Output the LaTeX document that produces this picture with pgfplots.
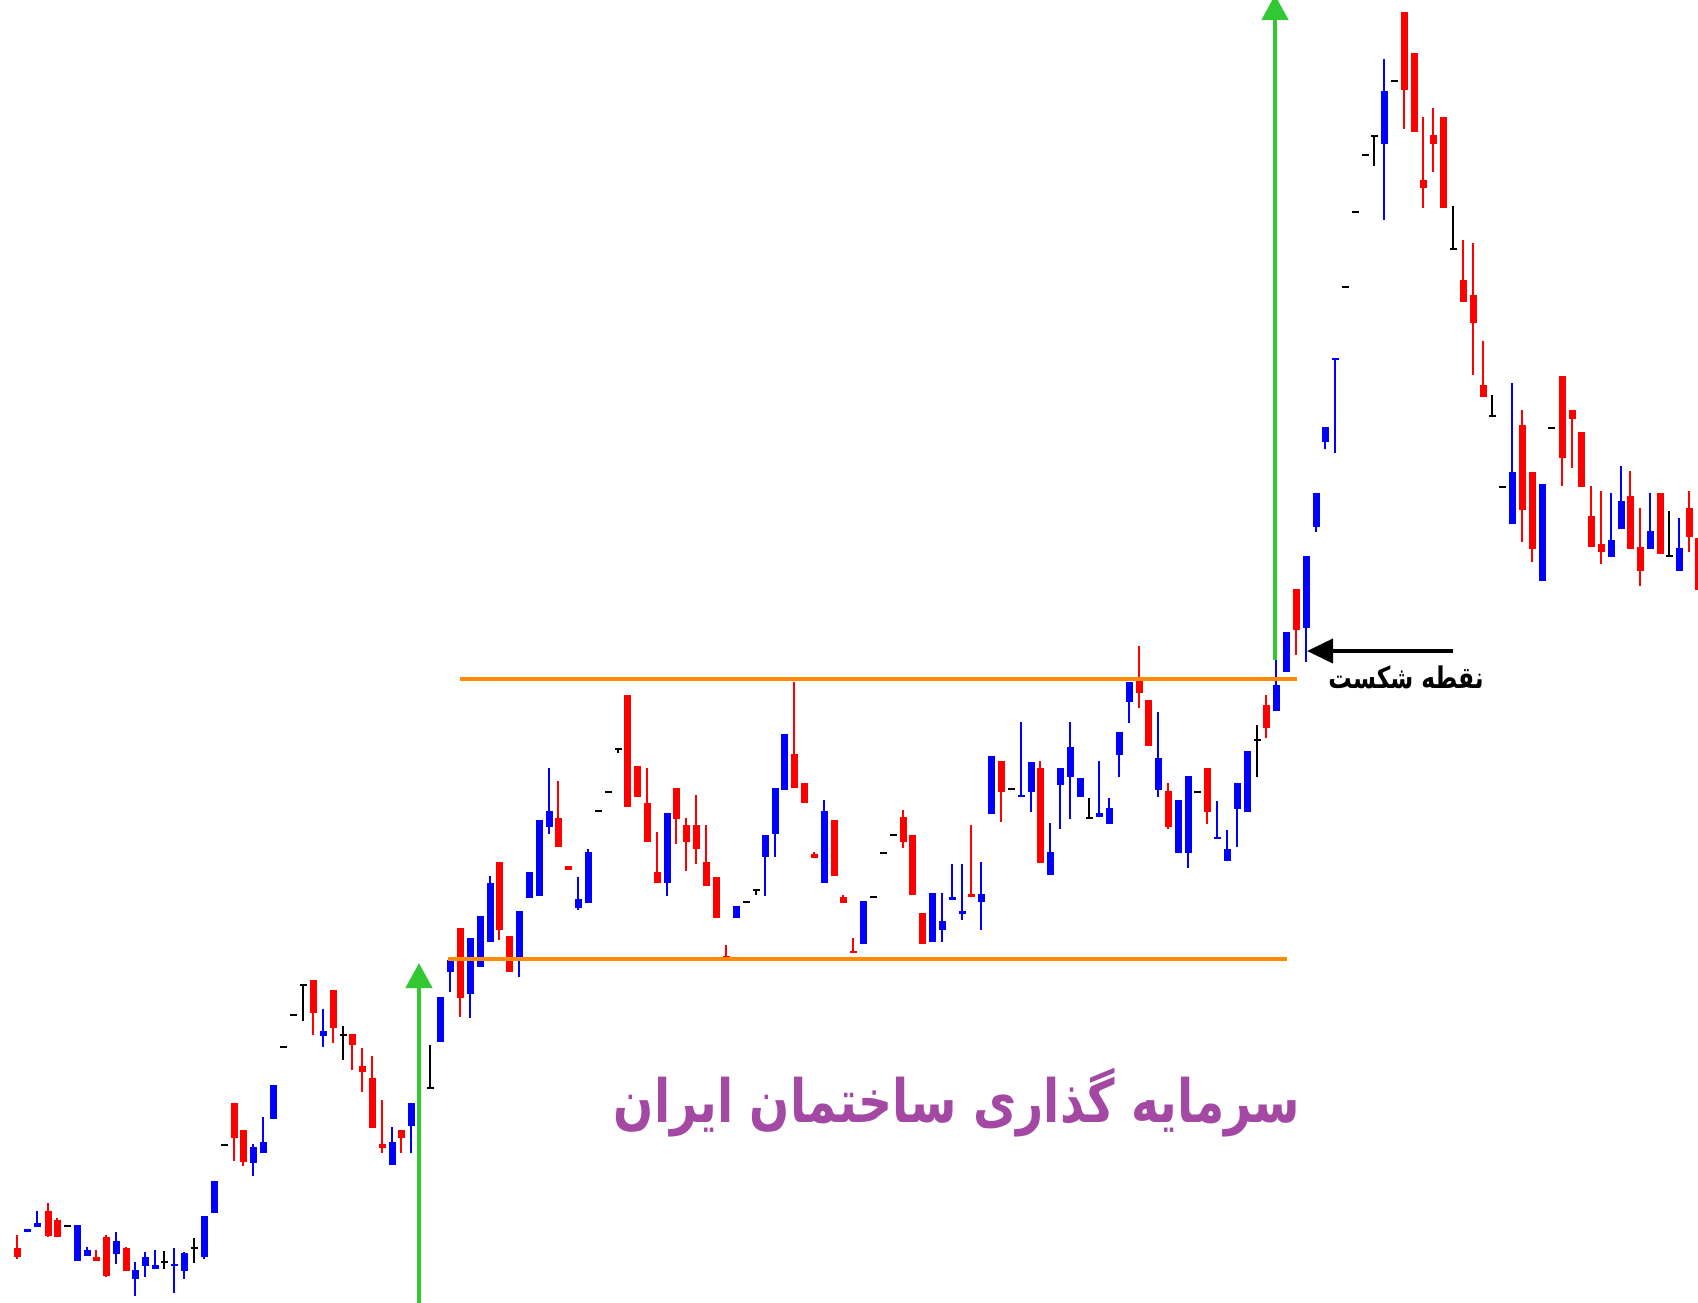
\documentclass[border=0pt]{standalone}
\usepackage{pgfplots}
\pgfplotsset{compat=1.18}
\usepackage{pgfplotstable}
\usepackage{fontspec}
\usetikzlibrary{arrows.meta}
\TeXXeTstate=1
\newfontfamily\arabicfont[Script=Arabic]{DejaVu Sans}
\definecolor{cred}{RGB}{255,0,0}
\definecolor{cblue}{RGB}{0,0,255}
\definecolor{cblack}{RGB}{0,0,0}
\definecolor{cgreen}{RGB}{50,200,50}
\definecolor{corange}{RGB}{255,140,0}
\definecolor{ctitle}{RGB}{163,73,164}

\pgfplotstableread{
x bt bb wt wb
17 1248 1257 1235 1259
48 1211 1236 1203 1237
57 1220 1237 1218 1237
96 1257 1261 1250 1261
106 1237 1276 1235 1277
126 1248 1271 1247 1271
234 1103 1138 1103 1161
243 1130 1162 1130 1166
313 980 1013 980 1035
333 990 1028 990 1043
352 1034 1045 1034 1070
362 1066 1072 1048 1092
372 1078 1128 1056 1128
382 1144 1148 1100 1153
401 1130 1138 1130 1153
460 928 998 928 1017
499 862 930 862 940
509 936 972 936 972
558 818 847 781 847
568 866 870 866 870
627 695 807 695 807
637 766 797 766 797
647 803 842 768 842
657 872 883 832 883
676 788 819 788 844
686 825 842 818 871
696 825 849 795 864
706 862 886 825 886
716 877 918 877 918
726 956 958 945 958
794 754 788 682 788
804 783 803 783 803
814 854 858 852 858
834 820 876 820 876
843 897 903 895 903
853 951 953 938 953
903 817 842 810 848
912 835 895 835 895
922 913 944 913 944
971 894 897 825 897
1001 761 792 761 822
1040 768 863 761 863
1139 680 693 646 708
1148 700 746 700 746
1168 791 827 783 829
1207 768 812 768 824
1266 705 728 695 738
1296 589 630 589 655
1404 12 90 12 129
1414 53 132 53 132
1423 180 188 117 208
1433 135 144 108 172
1443 117 208 117 208
1463 280 302 240 302
1473 295 323 243 375
1483 385 397 341 397
1522 425 510 410 542
1532 472 549 472 562
1562 376 458 376 486
1572 410 419 410 468
1581 432 487 432 487
1591 516 547 486 547
1601 544 552 491 564
1630 496 549 471 549
1640 547 571 508 586
1660 493 554 493 554
1689 508 537 491 552
1698 538 590 538 590
}\redtab

\pgfplotstableread{
x bt bb wt wb
27 1229 1232 1229 1232
37 1223 1227 1211 1227
77 1225 1261 1225 1261
87 1250 1256 1247 1256
116 1241 1254 1232 1264
135 1270 1279 1262 1296
145 1257 1266 1252 1277
155 1265 1269 1250 1269
174 1264 1266 1248 1293
184 1253 1271 1252 1279
204 1216 1257 1216 1259
214 1181 1213 1181 1213
253 1147 1163 1144 1176
263 1142 1153 1117 1153
273 1085 1119 1085 1119
323 1031 1036 1009 1047
392 1142 1165 1127 1165
411 1103 1126 1103 1153
440 997 1042 997 1042
450 960 972 960 992
470 938 994 938 1018
480 916 967 916 967
490 883 942 876 942
519 911 958 911 977
529 872 898 872 898
539 820 896 820 896
549 811 827 768 834
578 899 908 877 910
588 852 903 849 903
667 813 883 813 896
736 906 918 906 918
765 835 857 835 896
775 788 834 788 857
784 734 790 734 790
824 811 883 800 883
863 901 944 901 944
932 893 942 893 942
942 921 930 893 942
952 897 900 864 900
962 911 914 864 920
981 894 902 862 930
991 756 814 756 814
1021 795 797 722 797
1031 762 792 762 812
1050 852 875 823 875
1060 768 785 768 829
1070 747 777 722 819
1080 778 797 778 797
1099 813 817 761 817
1109 808 824 798 824
1119 732 755 732 777
1129 682 702 682 723
1158 758 790 712 797
1178 800 853 800 853
1188 776 853 776 868
1217 837 839 801 839
1227 849 861 830 861
1237 783 809 783 847
1247 751 812 751 812
1276 685 711 660 711
1286 632 672 632 672
1306 556 628 556 662
1316 493 527 493 532
1325 427 442 427 449
1335 358 360 358 453
1384 91 144 59 220
1512 472 524 383 524
1542 484 581 484 581
1611 540 557 493 557
1621 501 529 466 529
1650 531 549 493 549
1679 548 571 518 571
}\bluetab

\pgfplotstableread{
x bt bb wt wb
67 1226 1226 1226 1226
164 1262 1262 1251 1269
194 1248 1248 1238 1263
224 1145 1145 1145 1145
283 1047 1047 1047 1047
293 1015 1015 1015 1015
303 985 985 985 1021
343 1035 1035 1026 1060
430 1088 1088 1045 1088
598 811 811 811 811
608 792 792 792 792
618 749 749 749 753
746 902 902 902 902
756 890 890 890 895
873 897 897 897 897
883 853 853 853 853
893 835 835 835 835
1011 789 789 789 789
1089 818 818 798 818
1197 792 792 792 792
1257 740 740 725 777
1345 287 287 287 287
1355 212 212 212 212
1365 155 155 155 155
1374 136 136 136 166
1394 81 81 81 81
1453 249 249 206 249
1492 416 416 395 416
1502 487 487 487 487
1551 428 428 428 428
1669 556 556 511 556
}\blacktab

\pgfplotsset{
  wick/.style={draw=none, mark=none, forget plot,
    error bars/.cd, y dir=both, y explicit, error mark=none,
    error bar style={draw=#1, solid, line width=0.2mm}},
  body/.style={draw=none, mark=none, forget plot,
    error bars/.cd, y dir=both, y explicit, error mark=none,
    error bar style={draw=#1, solid, line width=0.7mm}},
}

\begin{document}
\begin{tikzpicture}
\begin{axis}[
  width=16.98cm, height=13.02cm, scale only axis,
  xmin=0, xmax=1698, ymin=0, ymax=1302, y dir=reverse,
  hide axis, clip=true,
]
\addplot[draw=none, mark=none, forget plot] coordinates {(0,0) (1698,1302)};

\addplot[wick=cred] table[x=x, y expr={(\thisrow{wt}+\thisrow{wb})/2}, y error expr={(\thisrow{wb}-\thisrow{wt})/2}] {\redtab};
\addplot[body=cred] table[x=x, y expr={(\thisrow{bt}+\thisrow{bb})/2}, y error expr={max((\thisrow{bb}-\thisrow{bt})/2,1.4)}] {\redtab};
\addplot[wick=cblue] table[x=x, y expr={(\thisrow{wt}+\thisrow{wb})/2}, y error expr={(\thisrow{wb}-\thisrow{wt})/2}] {\bluetab};
\addplot[body=cblue] table[x=x, y expr={(\thisrow{bt}+\thisrow{bb})/2}, y error expr={max((\thisrow{bb}-\thisrow{bt})/2,1.4)}] {\bluetab};
\addplot[wick=cblack] table[x=x, y expr={(\thisrow{wt}+\thisrow{wb})/2}, y error expr={(\thisrow{wb}-\thisrow{wt})/2}] {\blacktab};
\addplot[body=cblack] table[x=x, y expr={(\thisrow{bt}+\thisrow{bb})/2}, y error expr={max((\thisrow{bb}-\thisrow{bt})/2,1.4)}] {\blacktab};

% support / resistance
\addplot[corange, line width=0.4mm, forget plot] coordinates {(460,679) (1297,679)};
\addplot[corange, line width=0.4mm, forget plot] coordinates {(448,959) (1287,959)};

% green target arrows
\addplot[cgreen, line width=0.45mm, -{Triangle[width=2.6mm,length=2.5mm]}, forget plot] coordinates {(419,1310) (419,963)};
\addplot[cgreen, line width=0.45mm, -{Triangle[width=2.6mm,length=2.5mm]}, forget plot] coordinates {(1275,660) (1275,-5)};

% breakout arrow
\addplot[black, line width=0.4mm, -{Triangle[width=2.4mm,length=2.6mm]}, forget plot] coordinates {(1453,651) (1307,651)};

\node[text=black, xscale=0.78, font=\arabicfont\bfseries\fontsize{8.5}{10}\selectfont] at (axis cs:1406,677) {\beginR نقطه شکست\endR};
\node[text=ctitle, xscale=0.79, font=\arabicfont\bfseries\fontsize{17}{20}\selectfont] at (axis cs:957,1103) {\beginR سرمایه گذاری ساختمان ایران\endR};
\end{axis}
\end{tikzpicture}
\end{document}
